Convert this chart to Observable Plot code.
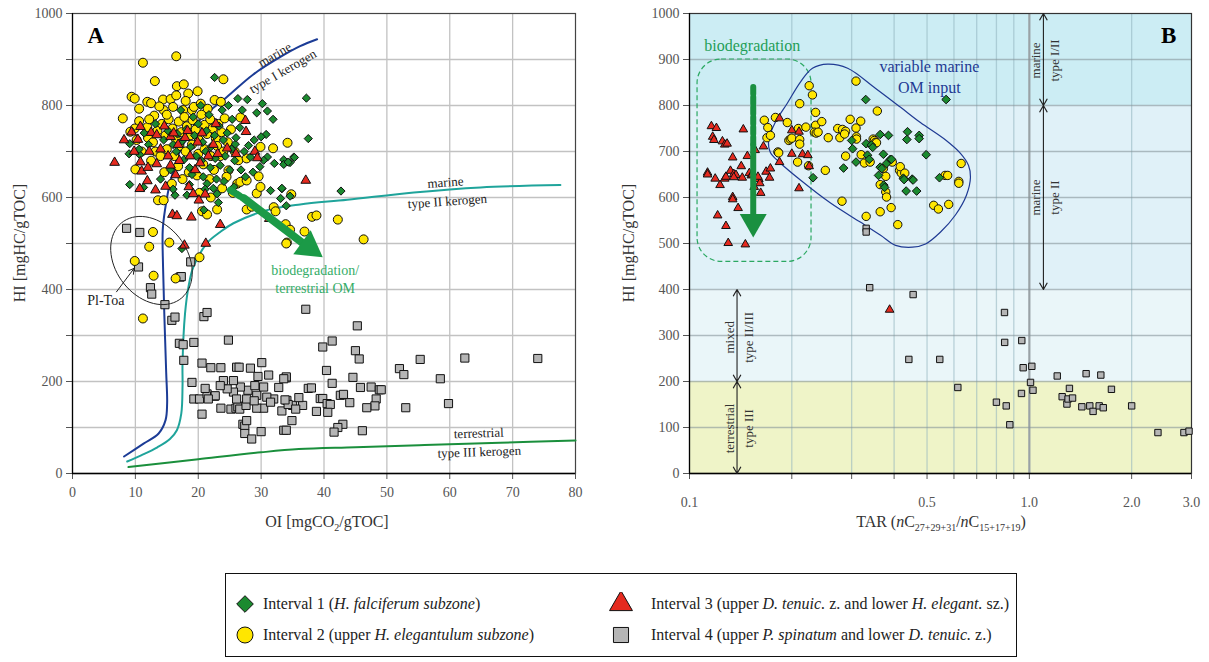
<!DOCTYPE html>
<html>
<head>
<meta charset="utf-8">
<script src="https://cdn.jsdelivr.net/npm/d3@7"></script>
<script src="https://cdn.jsdelivr.net/npm/@observablehq/plot@0.6"></script>
<style>
  body { margin: 0; background: #fff; font-family: "Liberation Serif", serif; }
  #wrap { position: relative; width: 1209px; height: 662px; overflow: hidden; background: #fff; }
  .panel { position: absolute; top: 0; }
  .axt { position: absolute; font-size: 16px; color: #333; white-space: nowrap; line-height: 1; }
  .rot { transform: translate(-50%, -50%) rotate(-90deg); }
  .hx { transform: translate(-50%, 0); }
  #legend { position: absolute; left: 225px; top: 573px; width: 792px; height: 84px; border: 1.6px solid #111; box-sizing: border-box; }
  .sym { position: absolute; }
  .ltext { position: absolute; font-size: 16px; color: #222; white-space: nowrap; line-height: 1; transform: translate(0, -50%); }
  sub { font-size: 10px; vertical-align: -4px; }
</style>
</head>
<body>
<div id="wrap"></div>
<script>
// ---------- Panel A: HI vs OI (pseudo van Krevelen) ----------
// Interval 1 (green diamonds)
const int1A = [[22.6,861],[27.8,813],[30.2,804],[29.3,784],[31.0,788],[31.9,770],[30.8,737],[30.0,732],[33.6,682],[32.1,674],[34.6,676],[35.2,688],[31.0,688],[30.4,681],[28.3,688],[28.0,713],[25.9,716],[9.1,717],[9.0,695],[9.1,628],[10.7,693],[11.3,622],[16.3,605],[18.6,628],[21.4,630],[20.9,573],[31.5,615],[33.3,619],[33.1,598],[23.0,608],[25.7,623],[23.2,589],[37.2,816],[37.5,728],[33.6,672],[34.3,677],[35.3,687],[33.3,620],[34.0,582],[42.7,614],[17.4,489],[34.6,603],
  [14.5,725],[15.2,745],[16.0,715],[16.7,738],[17.4,722],[18.1,748],[18.8,710],[19.4,735],[20.0,760],[20.7,720],[21.3,745],[22.0,710],[22.6,735],[23.3,755],[24.0,725],[24.6,740],[25.3,705],[26.0,730],[26.6,752],[27.3,700],[19.7,690],[20.5,680],[21.2,700],[21.9,665],[22.7,685],[23.5,670],[24.3,690],[25.0,660],[25.8,680],[17.7,682],[18.6,665],[16.5,700],[15.6,660],[19.0,650],[20.8,645],[22.9,640],[24.1,635],[19.2,775],[21.7,780],[23.8,790],[20.4,800],[17.2,790],[13.2,760],[12.1,715],[11.4,740],[10.6,705],[22.4,620],[26.8,660],[27.5,645],[28.7,655],[29.8,667],[28.9,725],[27.0,790],[25.4,770],[26.3,815],[24.8,800],[21.1,618],[18.2,605],[14.0,640],[16.0,618]];
// Interval 2 (yellow circles)
const int2A = [[11.2,893],[16.5,907],[24.0,857],[13.1,853],[9.4,819],[9.9,815],[8.0,772],[10.6,793],[14.4,813],[15.6,814],[16.6,842],[17.7,846],[16.5,822],[18.4,826],[19.9,831],[11.9,808],[12.5,805],[10.6,766],[9.9,750],[9.2,743],[11.9,753],[13.0,778],[14.5,790],[16.0,797],[17.6,790],[19.0,790],[19.3,797],[20.4,804],[21.5,793],[22.6,812],[23.6,808],[26.7,774],[31.9,707],[34.2,719],[34.8,607],[32.0,579],[32.3,570],[34.1,502],[10.0,661],[13.6,594],[14.5,594],[20.6,570],[21.4,563],[23.0,574],[27.7,574],[28.5,580],[29.3,609],[29.9,623],[26.2,630],[26.7,634],[27.7,637],[29.6,646],[24.8,659],[26.4,681],[23.5,690],[27.7,685],[29.9,710],[38.1,558],[38.8,561],[42.2,552],[46.3,509],[33.9,542],[34.6,530],[36.9,526],[34.0,500],
  [12.0,730],[12.8,720],[13.5,745],[14.2,760],[14.8,735],[15.3,770],[15.9,750],[16.4,728],[16.9,765],[17.3,742],[17.8,775],[18.2,755],[18.7,735],[19.1,768],[19.6,748],[20.1,725],[20.5,780],[21.0,758],[21.4,738],[21.9,770],[22.3,750],[22.8,728],[23.2,760],[23.7,742],[24.2,772],[24.7,720],[25.2,748],[25.8,700],[13.2,700],[14.0,690],[15.0,705],[16.2,690],[17.0,712],[18.0,700],[19.0,715],[20.0,695],[21.0,705],[22.0,690],[23.0,712],[24.0,700],[12.5,680],[16.8,668],[18.5,655],[20.8,672],[22.5,660],[24.5,645],[17.5,640],[19.8,648],[11.0,700],[10.2,725],[14.6,655],[15.8,630],[21.8,640],[23.8,620],[25.5,610],[22.0,600],[20.2,610],[12.2,770],[18.0,810],[15.0,780],[13.8,798],
  [12.8,525],[12.2,493],[15.4,502],[9.9,462],[12.9,430],[16.4,424],[20.2,470],[11.2,337]];
// Interval 3 (red triangles)
const int3A = [[6.7,676],[8.2,725],[9.4,742],[10.8,754],[10.4,726],[12.5,741],[13.4,736],[15.6,732],[11.0,657],[10.8,677],[11.9,636],[10.7,619],[13.2,616],[14.8,624],[13.4,673],[15.6,670],[16.4,649],[18.5,623],[20.1,594],[19.2,608],[21.1,607],[15.9,563],[16.6,560],[18.9,557],[23.5,541],[24.6,707],[26.0,695],[27.5,767],[27.6,743],[29.0,700],[29.4,686],[21.2,500],[17.8,496],[31.3,554],[37.1,637],
  [14.0,705],[16.8,715],[17.9,730],[18.7,690],[19.9,720],[20.6,740],[21.6,690],[22.4,715],[23.1,695],[17.0,680],[15.2,690],[12.2,700],[19.5,660],[20.3,675],[16.1,740],[14.6,755],[18.3,745],[22.8,760],[12.0,665],[9.8,700]];
// Interval 4 (grey squares)
const int4A = [[8.6,533],[10.7,524],[10.5,449],[12.4,404],[12.6,390],[14.7,367],[15.8,333],[16.3,340],[17.0,283],[17.6,280],[17.7,246],[19.3,285],[20.9,341],[21.4,350],[17.1,427],[17.3,428],[18.8,460],[24.8,290],[30.1,241],[20.6,240],[22.0,230],[23.6,230],[26.1,231],[26.5,231],[28.3,229],[29.5,211],[31.2,214],[32.8,187],[34.0,208],[19.0,198],[20.6,129],[19.3,162],[20.2,162],[21.4,173],[22.6,168],[23.6,142],[25.2,140],[26.0,142],[26.3,145],[26.6,140],[27.1,107],[27.4,103],[27.7,115],[27.4,87],[28.5,75],[30.0,91],[30.4,142],[29.3,142],[27.6,148],[33.3,136],[33.6,94],[34.0,94],[34.9,115],[35.0,148],[34.1,159],[32.0,162],[30.9,166],[29.3,170],[27.9,181],[26.7,188],[25.6,177],[24.6,184],[24.0,202],[25.6,202],[23.5,191],[22.7,169],[21.6,162],[21.1,185],[26.1,162],[27.7,162],[29.0,191],[30.4,188],[31.5,155],[28.9,158],
  [37.1,357],[45.3,321],[41.3,288],[39.8,275],[45.0,267],[45.6,249],[55.3,248],[62.4,251],[74.0,250],[52.0,228],[52.7,215],[58.5,206],[40.4,224],[44.6,209],[41.3,196],[34.0,210],[33.6,206],[37.5,185],[38.0,186],[45.8,187],[47.5,188],[48.8,182],[49.1,182],[48.3,162],[48.1,147],[46.8,143],[44.1,154],[42.6,170],[43.1,172],[39.4,163],[39.8,163],[40.5,152],[41.0,150],[40.6,133],[38.8,135],[36.6,148],[34.3,150],[33.8,160],[53.0,143],[59.8,152],[43.0,107],[42.2,100],[41.6,90],[46.1,93],[35.5,140],[36.0,165]];

// Kerogen type evolution curves
const kerogenI = [[8.2,37],[11.3,65],[13.7,87],[14.8,116],[15.05,152],[14.9,220],[14.6,348],[14.4,450],[14.35,529],[14.7,572],[15.6,637],[17.4,710],[20.3,769],[24.6,819],[28.7,867],[33.0,905],[36.2,929],[38.9,944]];
const kerogenII = [[8.7,26],[11.0,40],[13.5,57],[15.5,75],[16.6,94],[17.3,130],[17.5,190],[17.5,240],[17.9,348],[18.5,410],[19.2,448],[21.4,501],[23.5,525],[25.6,544],[30.8,572],[36.2,585],[43.7,595],[54.3,611],[64.9,622],[77.6,627]];
const kerogenIII = [[8.9,14],[20,31],[30,46],[36,53],[45,57],[56,62],[68,67],[80,72]];

const oiTicks = d3.range(0, 81, 10);
const hiTicks = d3.range(0, 1001, 100);

// ---------- Panel B: HI vs TAR ----------
const int1B = [[0.330,813],[0.364,737],[0.385,735],[0.300,724],[0.302,706],[0.284,664],[0.309,677],[0.331,717],[0.343,714],[0.346,709],[0.334,692],[0.338,683],[0.364,666],[0.368,663],[0.372,694],[0.380,674],[0.390,683],[0.393,683],[0.360,648],[0.373,627],[0.375,622],[0.426,642],[0.428,639],[0.434,614],[0.438,743],[0.436,726],[0.231,643],[0.569,813],[0.474,735],[0.474,728],[0.497,693],[0.452,640],[0.455,638],[0.466,614],[0.544,643]];
const int2B = [[0.166,768],[0.170,752],[0.169,730],[0.173,735],[0.179,774],[0.194,763],[0.196,724],[0.198,727],[0.200,729],[0.211,726],[0.211,716],[0.208,677],[0.182,699],[0.183,697],[0.209,750],[0.220,753],[0.224,669],[0.225,843],[0.230,823],[0.211,804],[0.235,785],[0.235,757],[0.233,742],[0.236,740],[0.239,742],[0.245,765],[0.256,730],[0.251,659],[0.277,730],[0.281,592],[0.297,770],[0.309,853],[0.273,750],[0.282,748],[0.288,744],[0.286,738],[0.288,690],[0.309,751],[0.310,732],[0.310,727],[0.319,766],[0.320,693],[0.327,675],[0.340,677],[0.331,559],[0.357,788],[0.347,727],[0.350,724],[0.353,720],[0.355,719],[0.364,628],[0.364,569],[0.372,663],[0.378,646],[0.378,612],[0.380,601],[0.395,677],[0.392,578],[0.410,541],[0.415,659],[0.420,653],[0.417,667],[0.430,653],[0.630,674],[0.565,648],[0.575,648],[0.620,635],[0.620,631],[0.523,583],[0.540,575],[0.579,585]];
const int3B = [[0.116,755],[0.120,751],[0.117,732],[0.118,725],[0.125,722],[0.127,715],[0.129,717],[0.144,748],[0.165,711],[0.184,772],[0.113,654],[0.113,650],[0.119,641],[0.123,627],[0.127,641],[0.128,645],[0.134,687],[0.132,658],[0.135,651],[0.137,649],[0.135,644],[0.143,643],[0.142,668],[0.148,690],[0.150,653],[0.152,648],[0.156,703],[0.153,650],[0.155,623],[0.160,640],[0.161,631],[0.162,610],[0.159,645],[0.168,656],[0.173,663],[0.172,643],[0.184,677],[0.134,601],[0.134,596],[0.139,577],[0.121,561],[0.128,538],[0.130,501],[0.146,498],[0.200,695],[0.215,694],[0.223,692],[0.225,668],[0.210,620],[0.200,746],[0.210,743],[0.388,356]];
const int4B = [[0.331,533],[0.331,525],[0.339,404],[0.455,389],[0.442,248],[0.845,350],[0.846,285],[0.950,289],[0.545,248],[0.959,230],[1.017,233],[1.208,212],[1.469,217],[1.623,214],[1.008,198],[1.025,181],[0.948,174],[0.616,187],[0.800,155],[0.855,147],[0.876,106],[1.249,167],[1.290,151],[1.312,185],[1.300,162],[1.340,164],[1.744,183],[1.427,145],[1.506,147],[1.540,135],[1.605,147],[1.650,143],[2.000,147],[2.390,89],[2.850,89],[2.950,92]];

const tarTicks = [0.1,0.2,0.3,0.4,0.5,0.6,0.7,0.8,0.9,1,2,3];
const tarLabelled = [0.1,0.5,1,2,3];
const tarGrid = [0.2,0.3,0.4,0.5,0.6,0.7,0.8,0.9,2];

// Kerogen-type bands on the HI axis
const bandLo = [0, 200, 400, 800];
const bandHi = [200, 400, 800, 1000];
const bandFill = ["#eff4c8", "#eaf6f9", "#e0f1f8", "#ccedf4"];

// Outline of the "variable marine OM input" field
const omField = [[0.171,725],[0.179,764],[0.194,805],[0.212,851],[0.230,881],[0.255,890],[0.292,881],[0.353,837],[0.418,796],[0.478,763],[0.567,725],[0.627,696],[0.662,670],[0.671,644],[0.653,605],[0.606,562],[0.548,525],[0.495,499],[0.453,492],[0.404,496],[0.365,518],[0.319,546],[0.260,588],[0.212,638],[0.185,675],[0.173,698]];

// Interval styling and legend text
const intervalSymbol = ["diamond2", "circle", "triangle", "square"];
const intervalFill = ["#1b8a2f", "#ffe600", "#e52a1f", "#b5b5b5"];
const intervalLabel = [
  "Interval 1 (<i>H. falciferum subzone</i>)",
  "Interval 2 (upper <i>H. elegantulum subzone</i>)",
  "Interval 3 (upper <i>D. tenuic.</i> z. and lower <i>H. elegant.</i> sz.)",
  "Interval 4 (upper <i>P. spinatum</i> and lower <i>D. tenuic.</i> z.)"
];

const serif = "Liberation Serif, serif";
const px = d => d[0], py = d => d[1];

function dots(sets, radii) {
  return sets.map(([pts, i]) => Plot.dot(pts, {
    x: px, y: py, symbol: intervalSymbol[i], r: radii[i],
    fill: intervalFill[i], stroke: "#111", strokeWidth: 1
  }));
}
function label(x, y, text, o = {}) {
  return Plot.text([{x, y, text}], {x: "x", y: "y", text: "text", fontFamily: serif, fontSize: 13, fill: "#222", lineHeight: 1.5, ...o});
}

// Pl-Toa ellipse outline (conjugate semi-axes in data units)
const plToa = d3.range(0, 2 * Math.PI + 0.01, Math.PI / 36).map(t => [
  12.56 + 6.2 * Math.cos(t) - 1.91 * Math.sin(t),
  463 - 52.2 * Math.cos(t) - 80.4 * Math.sin(t)
]);

const chartA = Plot.plot({
  width: 600, height: 540,
  marginLeft: 72, marginRight: 25, marginTop: 13, marginBottom: 67,
  style: {fontFamily: serif, fontSize: "14px", color: "#555", background: "transparent", overflow: "visible"},
  x: {domain: [0, 80], ticks: oiTicks, tickSize: 6, tickPadding: 8, tickFormat: d => String(d), label: null},
  y: {domain: [0, 1000], ticks: hiTicks, tickSize: 6, tickPadding: 4, tickFormat: d => d % 200 === 0 ? String(d) : "", label: null},
  marks: [
    Plot.ruleX(oiTicks.slice(1, -1), {stroke: "#c2c2c2", strokeWidth: 1.3}),
    Plot.ruleY(hiTicks.slice(1, -1), {stroke: "#c2c2c2", strokeWidth: 1.3}),
    Plot.frame({stroke: "#444", strokeWidth: 1.2}),
    Plot.ruleY([0], {stroke: "#000", strokeWidth: 1.5}),
    Plot.ruleX([0], {stroke: "#000", strokeWidth: 1.2}),
    Plot.line(kerogenIII, {x: px, y: py, stroke: "#1a8f3c", strokeWidth: 2, curve: "catmull-rom"}),
    Plot.line(kerogenII, {x: px, y: py, stroke: "#1fa49b", strokeWidth: 2, curve: "catmull-rom"}),
    Plot.line(kerogenI, {x: px, y: py, stroke: "#1c3c96", strokeWidth: 2, curve: "catmull-rom"}),
    ...dots([[int4A, 3], [int2A, 1], [int1A, 0], [int3A, 2]], [3.7, 4.5, 3.6, 4.6]),
    Plot.line(plToa, {x: px, y: py, stroke: "#222", strokeWidth: 1, curve: "catmull-rom-closed"}),
    Plot.arrow([{x1: 7.0, y1: 395, x2: 9.8, y2: 446}], {x1: "x1", y1: "y1", x2: "x2", y2: "y2", stroke: "#222", strokeWidth: 1, headLength: 9}),
    label(5.3, 380, "Pl-Toa", {fontSize: 14}),
    // biodegradation / terrestrial OM trend arrow
    Plot.line([[25.1, 616], [27.0, 600]], {x: px, y: py, stroke: "#1b9a47", strokeWidth: 7, strokeDasharray: "4,3"}),
    Plot.line([[27.3, 598], [37.0, 497]], {x: px, y: py, stroke: "#1b9a47", strokeWidth: 8}),
    Plot.dot([[37.6, 492]], {x: px, y: py, symbol: "triangle", r: 11, rotate: 126, fill: "#1b9a47"}),
    label(38.6, 424, "biodegradation/\nterrestrial OM", {fill: "#35ad68", fontSize: 14, lineHeight: 1.25}),
    label(32.0, 914, "marine", {rotate: -30}),
    label(33.3, 878, "type I kerogen", {rotate: -30}),
    label(59.3, 637, "marine", {rotate: -4}),
    label(59.6, 596, "type II kerogen", {rotate: -4}),
    label(64.6, 92, "terrestrial", {rotate: -2}),
    label(64.7, 51, "type III kerogen", {rotate: -2}),
    label(3.7, 959, "A", {fontSize: 23, fontWeight: "bold", fill: "#000"})
  ]
});

const chartB = Plot.plot({
  width: 609, height: 540,
  marginLeft: 89, marginRight: 18, marginTop: 13, marginBottom: 67,
  style: {fontFamily: serif, fontSize: "14px", color: "#555", background: "transparent", overflow: "visible"},
  x: {type: "log", domain: [0.1, 3], ticks: tarTicks, tickSize: 6, tickPadding: 18, tickFormat: d => tarLabelled.includes(d) ? d.toFixed(1) : "", label: null},
  y: {domain: [0, 1000], ticks: hiTicks, tickSize: 6, tickPadding: 4, tickFormat: d => String(d), label: null},
  marks: [
    Plot.rect(bandLo, {x1: () => 0.1, x2: () => 3, y1: d => d, y2: (d, i) => bandHi[i], fill: (d, i) => bandFill[i]}),
    Plot.ruleX(tarGrid, {stroke: "#8fb3bd", strokeOpacity: 0.55, strokeWidth: 1.3}),
    Plot.ruleX([1], {stroke: "#9aa2a6", strokeWidth: 2.2}),
    Plot.ruleY(hiTicks.slice(1, -1), {stroke: "#86949a", strokeOpacity: 0.6, strokeWidth: 1.4}),
    Plot.frame({stroke: "#333", strokeWidth: 1.2}),
    Plot.ruleY([0], {stroke: "#000", strokeWidth: 1.5}),
    Plot.ruleX([0.1], {stroke: "#000", strokeWidth: 1.2}),
    // HI class arrows
    Plot.arrow([
      {x1: 1.10, y1: 900, x2: 1.10, y2: 1000}, {x1: 1.10, y1: 900, x2: 1.10, y2: 800},
      {x1: 1.10, y1: 600, x2: 1.10, y2: 800}, {x1: 1.10, y1: 600, x2: 1.10, y2: 400},
      {x1: 0.138, y1: 300, x2: 0.138, y2: 400}, {x1: 0.138, y1: 300, x2: 0.138, y2: 200},
      {x1: 0.138, y1: 100, x2: 0.138, y2: 200}, {x1: 0.138, y1: 100, x2: 0.138, y2: 0}
    ], {x1: "x1", y1: "y1", x2: "x2", y2: "y2", stroke: "#222", strokeWidth: 1.1, headLength: 10}),
    label(1.10, 898, "marine\ntype I/II", {rotate: -90, fill: "#333"}),
    label(1.10, 600, "marine\ntype II", {rotate: -90, fill: "#333"}),
    label(0.138, 296, "mixed\ntype II/III", {rotate: -90, fill: "#333"}),
    label(0.138, 98, "terrestrial\ntype III", {rotate: -90, fill: "#333"}),
    // biodegradation field and trend
    Plot.rect([{x1: 0.1056, x2: 0.2286, y1: 460, y2: 900}], {x1: "x1", x2: "x2", y1: "y1", y2: "y2", rx: 24, fill: "none", stroke: "#2ba862", strokeWidth: 1.2, strokeDasharray: "5,3"}),
    Plot.line(omField, {x: px, y: py, stroke: "#1f3a93", strokeWidth: 1.2, curve: "catmull-rom-closed"}),
    ...dots([[int4B, 3], [int2B, 1], [int1B, 0], [int3B, 2]], [3.9, 4.2, 3.2, 3.6]),
    Plot.line([[0.154, 840], [0.154, 714]], {x: px, y: py, stroke: "#1a9040", strokeWidth: 6, strokeDasharray: "7,3"}),
    Plot.line([[0.154, 714], [0.154, 555]], {x: px, y: py, stroke: "#1a9040", strokeWidth: 6}),
    Plot.dot([[0.154, 547]], {x: px, y: py, symbol: "triangle", r: 10, rotate: 180, fill: "#1a9040"}),
    label(0.153, 935, "biodegradation", {fill: "#1f9e57", fontSize: 16}),
    label(0.508, 864, "variable marine\nOM input", {fill: "#1f3a93", fontSize: 16, lineHeight: 1.3}),
    label(2.57, 959, "B", {fontSize: 23, fontWeight: "bold", fill: "#000"})
  ]
});

const wrap = document.getElementById("wrap");
chartA.classList.add("panel"); chartA.style.left = "0px";
chartB.classList.add("panel"); chartB.style.left = "600px";
wrap.append(chartA, chartB);

// Axis titles
const titles = [
  {html: "OI [mgCO<sub>2</sub>/gTOC]", x: 327, y: 514, cls: "hx"},
  {html: "HI [mgHC/gTOC]", x: 20, y: 243, cls: "rot"},
  {html: "HI [mgHC/gTOC]", x: 629, y: 243, cls: "rot"},
  {html: "TAR (<i>n</i>C<sub>27+29+31</sub>/<i>n</i>C<sub>15+17+19</sub>)", x: 941, y: 514, cls: "hx"}
];
for (const t of titles) {
  const d = document.createElement("div");
  d.className = "axt " + t.cls;
  d.style.left = t.x + "px"; d.style.top = t.y + "px";
  d.innerHTML = t.html;
  wrap.append(d);
}

// Legend: symbol centre and text start, relative to the legend box
const legend = document.createElement("div");
legend.id = "legend";
wrap.append(legend);
const legendSymX = [19, 19, 395, 395];
const legendTextX = [37, 37, 425, 425];
const legendRowY = [30, 61, 30, 61];
const legendR = [7.5, 8, 8.5, 8.5];
const d3Symbol = {diamond2: d3.symbolDiamond2, circle: d3.symbolCircle, triangle: d3.symbolTriangle, square: d3.symbolSquare};
intervalLabel.forEach((lab, i) => {
  const path = d3.symbol(d3Symbol[intervalSymbol[i]], Math.PI * legendR[i] * legendR[i])();
  const s = document.createElement("div");
  s.className = "sym";
  s.style.left = (legendSymX[i] - 12) + "px";
  s.style.top = (legendRowY[i] - 12) + "px";
  s.innerHTML = `<svg width="24" height="24" viewBox="-12 -12 24 24"><path d="${path}" fill="${intervalFill[i]}" stroke="#111" stroke-width="1"/></svg>`;
  const t = document.createElement("div");
  t.className = "ltext";
  t.style.left = legendTextX[i] + "px";
  t.style.top = legendRowY[i] + "px";
  t.innerHTML = lab;
  legend.append(s, t);
});
</script>
</body>
</html>
